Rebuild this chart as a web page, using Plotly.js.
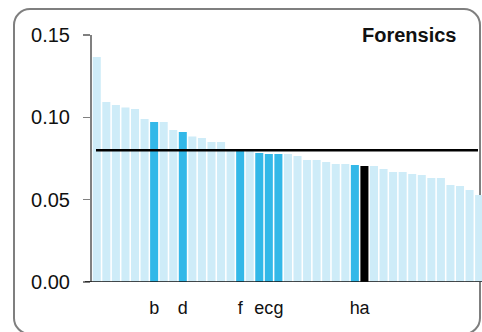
<!DOCTYPE html>
<html>
<head>
<meta charset="utf-8">
<script src="https://cdn.plot.ly/plotly-3.0.1.min.js"></script>
<style>
  html, body { margin: 0; padding: 0; background: #ffffff; }
  #wrap { position: relative; width: 482px; height: 332px; overflow: hidden; }
  #frame { position: absolute; left: 13px; top: 8px; width: 464px; height: 323px;
           border: 2px solid #7f7f7f; border-radius: 17px; z-index: 0; }
  #chart { position: absolute; left: 0; top: 0; width: 482px; height: 332px; z-index: 1; }
</style>
</head>
<body>
<div id="wrap">
  <div id="frame"></div>
  <div id="chart"></div>
</div>
<script>
// Values (sorted descending)
const values = [
  0.1366, 0.1093, 0.1075, 0.1059, 0.1051, 0.0990, 0.0972, 0.0972, 0.0923, 0.0911,
  0.0883, 0.0874, 0.0850, 0.0850, 0.0807, 0.0805, 0.0795, 0.0783, 0.0777, 0.0777,
  0.0777, 0.0765, 0.0741, 0.0741, 0.0729, 0.0717, 0.0717, 0.0711, 0.0704, 0.0704,
  0.0686, 0.0668, 0.0668, 0.0656, 0.0650, 0.0632, 0.0632, 0.0589, 0.0583, 0.0559,
  0.0528
];
// Label for each bar ('' = unlabeled)
const barLabels = [
  '', '', '', '', '', '', 'b', '', '', 'd',
  '', '', '', '', '', 'f', '', 'e', 'c', 'g',
  '', '', '', '', '', '', '', 'h', 'a', '',
  '', '', '', '', '', '', '', '', '', '',
  ''
];
// 'a' is the focus; other labeled bars are peers
const focusLabel = 'a';
const threshold = 0.08;
const chartTitle = 'Forensics';
const yTickVals = [0, 0.05, 0.10, 0.15];

const colorOther = '#ceecf8';
const colorPeer = '#33b8e8';
const colorFocus = '#000000';

const xIdx = values.map((v, i) => i);
const colors = barLabels.map(l => l === '' ? colorOther : (l === focusLabel ? colorFocus : colorPeer));
const tickVals = xIdx.filter(i => barLabels[i] !== '');
const tickText = tickVals.map(i => barLabels[i]);

const font = 'Liberation Sans, Arial, Helvetica, sans-serif';

const trace = {
  type: 'bar',
  x: xIdx,
  y: values,
  marker: { color: colors, line: { width: 0 } },
  hoverinfo: 'none'
};

const layout = {
  width: 482,
  height: 332,
  margin: { l: 92, r: 0, t: 35, b: 50 },
  paper_bgcolor: 'rgba(0,0,0,0)',
  plot_bgcolor: 'rgba(0,0,0,0)',
  showlegend: false,
  bargap: 0.16,
  font: { family: font, color: '#111111' },
  xaxis: {
    range: [-0.5, 40.3],
    tickmode: 'array',
    tickvals: tickVals,
    ticktext: tickText,
    tickangle: 0,
    ticks: '',
    showline: false,
    showgrid: false,
    zeroline: false,
    tickfont: { family: font, size: 18, color: '#111111' },
    ticklabelstandoff: 13,
    fixedrange: true
  },
  yaxis: {
    range: [0, 0.15],
    tickmode: 'array',
    tickvals: yTickVals,
    tickformat: '.2f',
    ticks: 'outside',
    ticklen: 7,
    tickwidth: 1.5,
    tickcolor: '#808080',
    showline: true,
    linecolor: '#808080',
    linewidth: 2,
    showgrid: false,
    zeroline: false,
    tickfont: { family: font, size: 20, color: '#111111' },
    ticklabelstandoff: 9,
    fixedrange: true
  },
  shapes: [
    { type: 'line', xref: 'paper', yref: 'y', x0: -0.018, x1: 1, y0: 0, y1: 0,
      line: { color: '#111111', width: 1.5 }, layer: 'above' },
    { type: 'line', xref: 'paper', yref: 'y', x0: 4 / 390, x1: 386 / 390, y0: threshold, y1: threshold,
      line: { color: '#000000', width: 2.5 }, layer: 'above' }
  ],
  annotations: [
    { text: '<b>' + chartTitle + '</b>', xref: 'paper', yref: 'paper',
      x: 0.9377, y: 1.0, xanchor: 'right', yanchor: 'middle', showarrow: false,
      font: { family: font, size: 20, color: '#111111' } }
  ]
};

Plotly.newPlot('chart', [trace], layout, { staticPlot: true, displayModeBar: false });
</script>
</body>
</html>
